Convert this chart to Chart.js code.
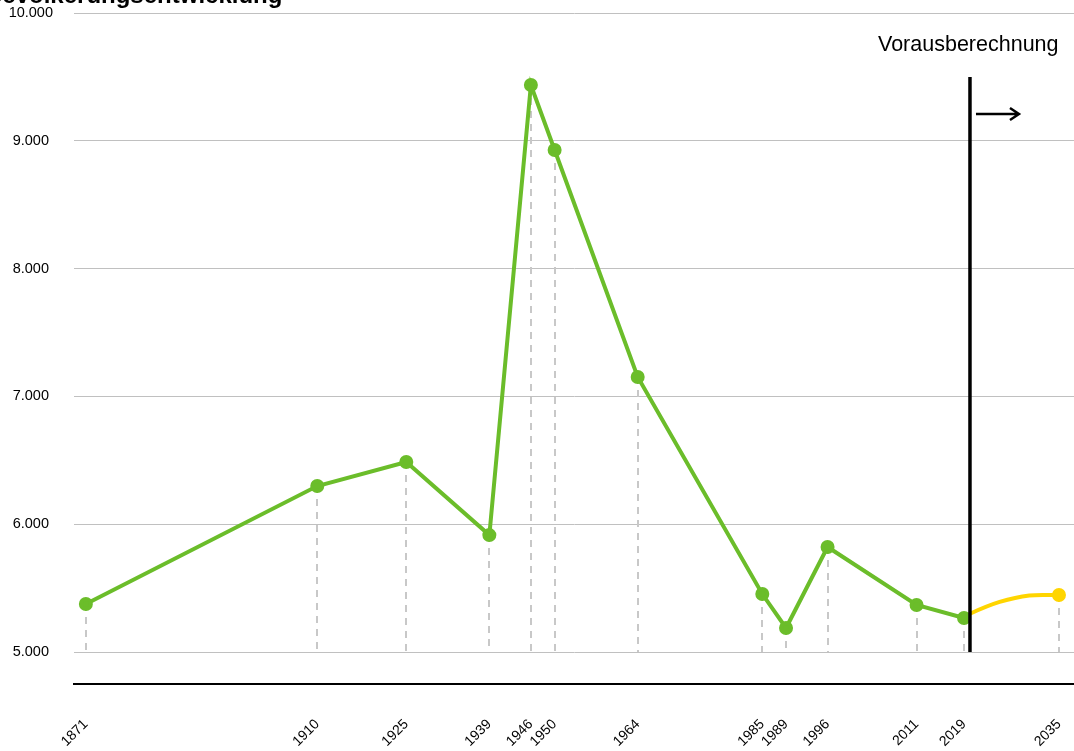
<!DOCTYPE html>
<html>
<head>
<meta charset="utf-8">
<script src="https://cdn.jsdelivr.net/npm/chart.js@4"></script>
<style>
  html, body { margin: 0; padding: 0; background: #fff; overflow: hidden; }
  #wrap { width: 1084px; height: 751px; }
</style>
</head>
<body>
<div id="wrap"><canvas id="chart"></canvas></div>
<script>
// Einwohner – Messwerte und Vorausberechnung
const years = [1871, 1910, 1925, 1939, 1946, 1950, 1964, 1985, 1989, 1996, 2011, 2019];
const population = [5376, 6299, 6487, 5915, 9437, 8928, 7152, 5454, 5188, 5822, 5368, 5266];
const projYears = [2019, 2020, 2025, 2030, 2035];
const projPopulation = [5266, 5300, 5392, 5443, 5446];
const tickYears = [1871, 1910, 1925, 1939, 1946, 1950, 1964, 1985, 1989, 1996, 2011, 2019, 2035];
const yTicks = [5000, 6000, 7000, 8000, 9000, 10000];
const forecastStart = 2020;

const green = "#6bbd2a";
const yellow = "#ffd500";
const font = "'Liberation Sans', Arial, sans-serif";

const fmt = v => String(v).replace(/\B(?=(\d{3})+(?!\d))/g, ".");

const extras = {
  id: "extras",
  beforeDatasetsDraw(chart) {
    const { ctx, scales: { x, y } } = chart;
    const base = y.getPixelForValue(5000);
    const pts = years.map((yr, i) => [yr, population[i]]);
    pts.push([projYears[projYears.length - 1], projPopulation[projPopulation.length - 1]]);
    ctx.save();
    ctx.strokeStyle = "#c8c8c8";
    ctx.lineWidth = 2;
    ctx.setLineDash([7, 6]);
    pts.forEach(([yr, v]) => {
      const px = Math.round(x.getPixelForValue(yr));
      ctx.beginPath();
      ctx.moveTo(px, y.getPixelForValue(v));
      ctx.lineTo(px, base);
      ctx.stroke();
    });
    ctx.restore();
  },
  afterDatasetsDraw(chart) {
    const { ctx, scales: { x, y } } = chart;
    const lx = x.getPixelForValue(forecastStart);
    ctx.save();
    ctx.strokeStyle = "#000";
    ctx.lineWidth = 3.5;
    ctx.beginPath();
    ctx.moveTo(lx, 77);
    ctx.lineTo(lx, y.getPixelForValue(5000));
    ctx.stroke();

    // Pfeil
    ctx.lineWidth = 2.5;
    ctx.beginPath();
    ctx.moveTo(lx + 6, 114);
    ctx.lineTo(lx + 49, 114);
    ctx.moveTo(lx + 40, 108);
    ctx.lineTo(lx + 49, 114);
    ctx.lineTo(lx + 40, 120);
    ctx.stroke();

    ctx.fillStyle = "#000";
    ctx.font = "21.5px " + font;
    ctx.textAlign = "left";
    ctx.textBaseline = "alphabetic";
    ctx.fillText("Vorausberechnung", 878, 51);

    ctx.font = "bold 24px " + font;
    ctx.fillText("Bevölkerungsentwicklung", -15, 3);
    ctx.restore();
  }
};

new Chart(document.getElementById("chart"), {
  type: "line",
  data: {
    datasets: [
      {
        label: "Bevölkerung",
        data: years.map((yr, i) => ({ x: yr, y: population[i] })),
        borderColor: green,
        backgroundColor: green,
        pointBackgroundColor: green,
        pointBorderColor: green,
        borderWidth: 4,
        pointRadius: 5,
        tension: 0,
        order: 1
      },
      {
        label: "Vorausberechnung",
        data: projYears.map((yr, i) => ({ x: yr, y: projPopulation[i] })),
        borderColor: yellow,
        backgroundColor: yellow,
        pointBackgroundColor: yellow,
        pointBorderColor: yellow,
        borderWidth: 4,
        pointRadius: projYears.map((_, i) => i === projYears.length - 1 ? 5 : 0),
        tension: 0.3,
        order: 2
      }
    ]
  },
  options: {
    responsive: true,
    maintainAspectRatio: false,
    animation: false,
    layout: { padding: { top: 13, left: 0, right: 0, bottom: 0 } },
    plugins: {
      legend: { display: false },
      tooltip: { enabled: false },
      title: { display: false }
    },
    scales: {
      x: {
        type: "linear",
        min: 1869,
        max: 2037.7,
        afterBuildTicks: s => { s.ticks = tickYears.map(v => ({ value: v })); },
        afterFit: s => { s.height = 67; s.paddingLeft = 0; s.paddingRight = 0; },
        grid: { display: false, drawTicks: false },
        border: { display: true, color: "#000", width: 2 },
        ticks: {
          autoSkip: false,
          minRotation: 45,
          maxRotation: 45,
          padding: 32,
          color: "#000",
          font: { family: font, size: 14 },
          callback: v => String(v)
        }
      },
      y: {
        min: 4750,
        max: 10000,
        afterBuildTicks: s => { s.ticks = yTicks.map(v => ({ value: v })); },
        afterFit: s => { s.width = 74; s.paddingTop = 0; s.paddingBottom = 0; },
        grid: { color: "#c0c0c0", lineWidth: 1, drawTicks: false },
        border: { display: false },
        ticks: {
          crossAlign: "center",
          padding: 21,
          color: "#000",
          font: { family: font, size: 14.5 },
          callback: v => fmt(v)
        }
      }
    }
  },
  plugins: [extras]
});
</script>
</body>
</html>
